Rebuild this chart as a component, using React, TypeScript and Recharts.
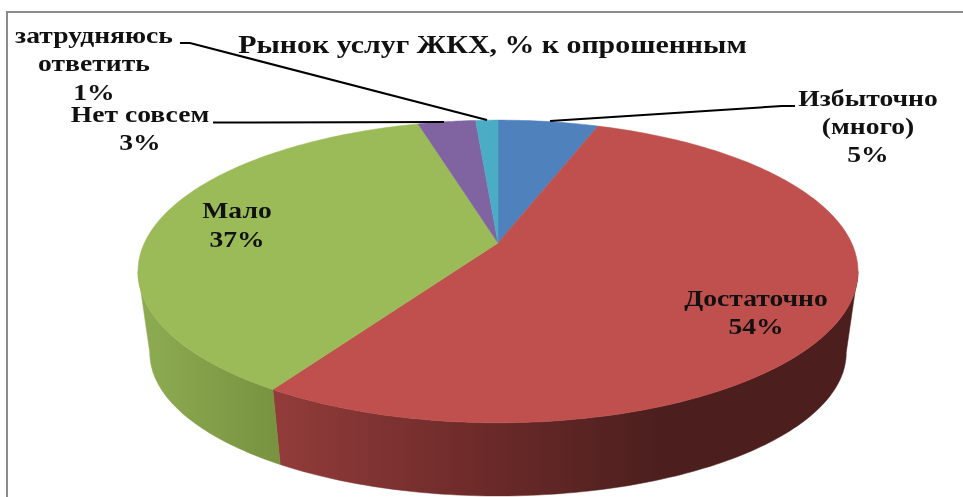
import { PieChart, Pie } from "recharts";

const categories = ["Избыточно", "Достаточно", "Мало", "Нет совсем", "затрудняюсь ответить"];
const shares = [5.4, 53.6, 36.7, 3.1, 1.2];
const colors = ["#4F81BD", "#C0504D", "#9BBB59", "#8064A2", "#4BACC6"];
const wallFills = ["#3A6190", "url(#redWall)", "url(#greenWall)", "#60497A", "#31859C"];

const data = categories.map((name, i) => ({ name, value: shares[i] }));

// label text lines, anchor and the baseline of the first line
const labelLayout = [
  { lines: ["Избыточно", "(много)"], x: 868, y: 106, step: 28 },
  { lines: ["Достаточно"], x: 756, y: 306, step: 28 },
  { lines: ["Мало"], x: 237, y: 218, step: 29 },
  { lines: ["Нет совсем"], x: 140, y: 122, step: 28 },
  { lines: ["затрудняюсь", "ответить"], x: 94, y: 43, step: 28.5 },
];
const leaderPaths = [
  "M795 106 L782 106 L550 121",
  null,
  null,
  "M213 122.5 L444 122",
  "M180 43 L190 43 L487 120",
];

const FONT = "'Liberation Serif', serif";
const TEXT_STRETCH = 1.15;
const CX = 498;
const CY = 243;
const RADIUS = 146;

// the pie is tilted: far side is squeezed, near side is stretched
const TILT = 0.188;
const TOP_X = 353.6 / RADIUS;
const BOTTOM_X = 342 / RADIUS;
const BOTTOM_Y = 138 / RADIUS;
const DROP = 83;
// angles where the rim turns away from the viewer
const WALL_RIGHT = -10.8;
const WALL_LEFT = -169.2;

function project(angle: number, r: number, depth: boolean) {
  const rad = (angle * Math.PI) / 180;
  const u = Math.cos(rad);
  const v = Math.sin(rad);
  const w = 1 + TILT * v;
  const x = CX + (r * (depth ? BOTTOM_X : TOP_X) * u) / w;
  const y = CY + (depth ? DROP : 0) - (r * (depth ? BOTTOM_Y : 1) * v) / w;
  return `${x.toFixed(1)} ${y.toFixed(1)}`;
}

function sweep(from: number, to: number, r: number, depth: boolean) {
  const pts: string[] = [];
  const n = Math.max(2, Math.ceil(Math.abs(to - from)));
  for (let i = 0; i <= n; i++) pts.push(project(from + ((to - from) * i) / n, r, depth));
  return pts;
}

function TiltedSector(props: any) {
  const { startAngle, endAngle, outerRadius, fill, index } = props;
  const top = [`${CX} ${CY}`, ...sweep(startAngle, endAngle, outerRadius, false)];
  const a = Math.min(startAngle, WALL_RIGHT);
  const b = Math.max(endAngle, WALL_LEFT);
  return (
    <g>
      {a > b && (
        <path
          d={`M${sweep(a, b, outerRadius, false).join(" L")} L${sweep(b, a, outerRadius, true).join(" L")} Z`}
          fill={wallFills[index]}
          stroke={wallFills[index]}
          strokeWidth={0.5}
        />
      )}
      <path d={`M${top.join(" L")} Z`} fill={fill} stroke={fill} strokeWidth={0.5} />
    </g>
  );
}

function SliceLabel(props: any) {
  const { index, value } = props;
  const item = labelLayout[index];
  return (
    <text
      transform={`translate(${item.x} ${item.y}) scale(${TEXT_STRETCH} 1)`}
      textAnchor="middle"
      fontFamily={FONT}
      fontSize={24}
      fontWeight={700}
      fill="#111"
      style={{ filter: "blur(0.4px)" }}
    >
      {[...item.lines, `${Math.round(value)}%`].map((line, i) => (
        <tspan key={i} x={0} dy={i === 0 ? 0 : item.step}>
          {line}
        </tspan>
      ))}
    </text>
  );
}

function LeaderLine(props: any) {
  const d = leaderPaths[props.index];
  if (!d) return <g />;
  return <path d={d} fill="none" stroke="#000" strokeWidth={2} />;
}

export default function App() {
  return (
    <div style={{ position: "absolute", left: 0, top: 0, width: 963, height: 497, background: "#fff", overflow: "hidden" }}>
      <div
        style={{
          position: "absolute",
          left: 6,
          top: 11,
          width: 957,
          height: 486,
          borderTop: "2px solid #8c8c8c",
          borderLeft: "2px solid #8c8c8c",
          boxSizing: "border-box",
        }}
      />
      <div style={{ position: "absolute", left: 0, top: 0 }}>
        <PieChart width={963} height={497} margin={{ top: 0, right: 0, bottom: 0, left: 0 }}>
          <defs>
            <linearGradient id="redWall" gradientUnits="userSpaceOnUse" x1="274" y1="0" x2="660" y2="0">
              <stop offset="0" stopColor="#923C3A" />
              <stop offset="0.55" stopColor="#6B2A29" />
              <stop offset="1" stopColor="#4C1F1E" />
            </linearGradient>
            <linearGradient id="greenWall" gradientUnits="userSpaceOnUse" x1="146" y1="0" x2="280" y2="0">
              <stop offset="0" stopColor="#8CAB51" />
              <stop offset="1" stopColor="#789240" />
            </linearGradient>
          </defs>
          <text
            transform={`translate(492.5 53) scale(${TEXT_STRETCH} 1)`}
            textAnchor="middle"
            fontFamily={FONT}
            fontSize={26}
            fontWeight={700}
            fill="#111"
            style={{ filter: "blur(0.4px)" }}
          >
            Рынок услуг ЖКХ, % к опрошенным
          </text>
          <Pie
            data={data}
            dataKey="value"
            nameKey="name"
            cx={CX}
            cy={CY}
            outerRadius={RADIUS}
            startAngle={90}
            endAngle={-270}
            isAnimationActive={false}
            shape={(p: any) => <TiltedSector {...p} fill={colors[p.index]} />}
            label={SliceLabel}
            labelLine={LeaderLine}
          />
        </PieChart>
      </div>
    </div>
  );
}
